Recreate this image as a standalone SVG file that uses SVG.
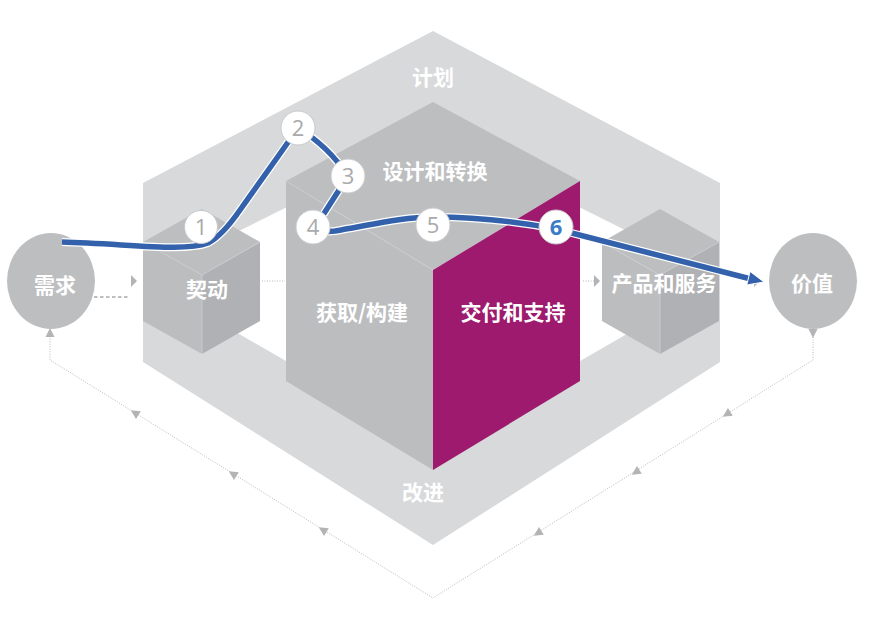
<svg xmlns="http://www.w3.org/2000/svg" width="884" height="630" viewBox="0 0 884 630">
<defs>
<style>
.lbl{font-family:"Noto Sans CJK SC","Noto Sans",sans-serif;font-weight:700;font-size:21px;fill:#ffffff;text-anchor:middle}
.num{font-family:"Open Sans","Liberation Sans",sans-serif;font-size:22px;fill:#a9aaac;text-anchor:middle}
.frame{fill:#d8d9db;fill-rule:evenodd}
.top{fill:#bdbec0}
.lft{fill:#bcbdbf}
.rgt{fill:#b0b1b4}
.edge{fill:none;stroke:#cdced0;stroke-width:0.8}
.dot{fill:none;stroke:#b8b9bb;stroke-width:1;stroke-dasharray:1 1.5}
.tri{fill:#b3b4b6}
.ball{fill:#bdbec0}
.step{fill:#ffffff;stroke:#c9cacc;stroke-width:1}
</style>
<path id="t" d="M5,0 L-4,-4.5 L-4,4.5 Z"/>
</defs>
<rect width="884" height="630" fill="#ffffff"/>

<g id="frame">
<path class="frame" d="M433,31 L720,183 L720,362 L433,545 L143,362 L143,183 Z M433,134 L651,243 L651,320 L433,446 L215,320 L215,243 Z"/>
<text class="lbl" x="433" y="85">计划</text>
<text class="lbl" x="423" y="500">改进</text>
</g>

<g id="connectors">
<path d="M94,297 H130" fill="none" stroke="#a9aaac" stroke-width="1.6" stroke-dasharray="3.5 2.5"/>
<polygon class="tri" points="137,281 131,275 131,287"/>
<path class="dot" d="M262,281 H285"/>
<path class="dot" d="M583,281 H594"/>
<polygon class="tri" points="600,281 594,275 594,287"/>
<polygon class="tri" points="760,281 754,275 754,287"/>
<path class="dot" d="M813,337 V360 L433,598 L50,360 V337"/>
<use href="#t" class="tri" transform="translate(813,333) rotate(90)"/>
<use href="#t" class="tri" transform="translate(50,333) rotate(-90)"/>
<use href="#t" class="tri" transform="translate(727,414) rotate(148)"/>
<use href="#t" class="tri" transform="translate(636,472) rotate(148)"/>
<use href="#t" class="tri" transform="translate(538,533) rotate(148)"/>
<use href="#t" class="tri" transform="translate(323,530) rotate(212)"/>
<use href="#t" class="tri" transform="translate(233,474) rotate(212)"/>
<use href="#t" class="tri" transform="translate(135,413) rotate(212)"/>
</g>

<g id="node-engage">
<polygon class="top" points="202,209 260,242 202,275 143,242"/>
<polygon class="lft" points="143,242 202,275 202,354 143,321"/>
<polygon class="rgt" points="202,275 260,242 260,321 202,354"/>
<path class="edge" d="M143,242 L202,275 L260,242 M202,275 V354"/>
<text class="lbl" x="207" y="297">契动</text>
</g>

<g id="node-core">
<polygon class="top" points="433,102 580,181 433,270 286,181"/>
<polygon class="lft" points="286,181 433,270 433,470 286,381"/>
<polygon fill="#9d1a6e" points="433,270 580,181 580,381 433,470"/>
<path class="edge" d="M286,181 L433,270"/>
<text class="lbl" x="435" y="179">设计和转换</text>
<text class="lbl" x="362" y="320">获取/构建</text>
<text class="lbl" x="513" y="320">交付和支持</text>
</g>

<g id="node-products">
<polygon class="top" points="660,209 719,242 660,275 602,242"/>
<polygon class="lft" points="602,242 660,275 660,354 602,321"/>
<polygon class="rgt" points="660,275 719,242 719,321 660,354"/>
<path class="edge" d="M602,242 L660,275 L719,242 M660,275 V354"/>
<text class="lbl" x="664" y="291">产品和服务</text>
</g>

<g id="node-demand">
<ellipse class="ball" cx="51" cy="281" rx="44" ry="48"/>
<text class="lbl" x="55" y="293">需求</text>
</g>

<g id="node-value">
<ellipse class="ball" cx="813" cy="281" rx="44" ry="48"/>
<text class="lbl" x="812" y="291">价值</text>
</g>

<g id="value-stream">
<path d="M62,242 C130,244 185,252 208,243 Q222,236 240,210 Q270,168 298,128 Q328,146 348,176 L316,226 Q318,233 335,231 C375,224 405,217 433,217 C480,217 520,222 556,229 L749,278.5" fill="none" stroke="#ffffff" stroke-width="8" stroke-linejoin="round"/>
<path d="M62,242 C130,244 185,252 208,243 Q222,236 240,210 Q270,168 298,128 Q328,146 348,176 L316,226 Q318,233 335,231 C375,224 405,217 433,217 C480,217 520,222 556,229 L749,278.5" fill="none" stroke="#3461ab" stroke-width="5.5" stroke-linejoin="round"/>
<polygon points="764,282 750.1,271.5 746.7,285" fill="#3461ab" stroke="#ffffff" stroke-width="1"/>
</g>

<g id="step-1"><circle class="step" cx="201" cy="227" r="16.5"/><text class="num" x="201" y="235">1</text></g>
<g id="step-2"><circle class="step" cx="298" cy="128" r="17"/><text class="num" x="298" y="136">2</text></g>
<g id="step-3"><circle class="step" cx="348" cy="176" r="17" stroke="#3a6cb3"/><text class="num" x="348" y="184">3</text></g>
<g id="step-4"><circle class="step" cx="313" cy="227" r="17"/><text class="num" x="313" y="235">4</text></g>
<g id="step-5"><circle class="step" cx="433" cy="225" r="17"/><text class="num" x="433" y="233">5</text></g>
<g id="step-6"><circle class="step" cx="556" cy="227" r="17"/><text class="num" x="556" y="235" style="fill:#3b7cc6;font-weight:700">6</text></g>
</svg>
